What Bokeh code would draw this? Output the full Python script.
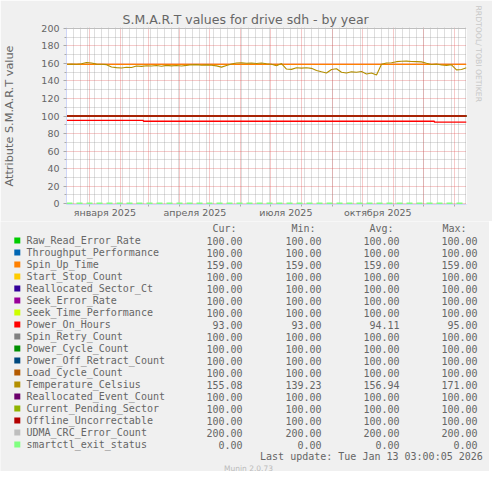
import pandas as pd
from bokeh.plotting import figure
from bokeh.layouts import column
from bokeh.models import (Range1d, FixedTicker, Grid, Title, ColumnDataSource,
                          CustomJSTickFormatter)
from bokeh.core.properties import value
from bokeh.embed import file_html
from bokeh.resources import INLINE

# --- data ---
names = ["Raw_Read_Error_Rate", "Throughput_Performance", "Spin_Up_Time", "Start_Stop_Count",
         "Reallocated_Sector_Ct", "Seek_Error_Rate", "Seek_Time_Performance", "Power_On_Hours",
         "Spin_Retry_Count", "Power_Cycle_Count", "Power_Off_Retract_Count", "Load_Cycle_Count",
         "Temperature_Celsius", "Reallocated_Event_Count", "Current_Pending_Sector",
         "Offline_Uncorrectable", "UDMA_CRC_Error_Count", "smartctl_exit_status"]
colors = ["#00CC00", "#0066B3", "#FF8000", "#FFCC00", "#330099", "#990099", "#CCFF00", "#FF0000",
          "#808080", "#008F00", "#00487D", "#B35A00", "#B38F00", "#6B006B", "#8FB300", "#B30000",
          "#BEBEBE", "#80FF80"]
cur = [100, 100, 159, 100, 100, 100, 100, 93, 100, 100, 100, 100, 155.08, 100, 100, 100, 200, 0]
mins = [100, 100, 159, 100, 100, 100, 100, 93, 100, 100, 100, 100, 139.23, 100, 100, 100, 200, 0]
avgs = [100, 100, 159, 100, 100, 100, 100, 94.11, 100, 100, 100, 100, 156.94, 100, 100, 100, 200, 0]
maxs = [100, 100, 159, 100, 100, 100, 100, 95, 100, 100, 100, 100, 171.00, 100, 100, 100, 200, 0]

start = pd.Timestamp("2024-12-09 03:00:05")
end = pd.Timestamp("2026-01-13 03:00:05")

# temperature, one value every 5 days from start
temp_step_days = 5
temp_values = [159.0, 159.2, 159.0, 159.6, 161.0, 160.4, 159.2, 159.0, 158.6, 156.0,
               155.2, 154.8, 155.6, 155.4, 157.0, 156.6, 157.4, 157.0, 157.6, 156.8,
               157.8, 157.2, 157.6, 157.0, 157.8, 158.4, 158.6, 158.0, 158.4, 158.0,
               157.2, 155.8, 157.6, 159.4, 160.4, 160.6, 160.2, 160.4, 160.0, 160.4,
               159.6, 159.0, 157.4, 159.8, 153.6, 153.2, 155.0, 154.6, 155.0, 154.4,
               152.0, 150.4, 149.0, 153.0, 154.0, 150.0, 149.0, 150.4, 150.0, 150.8,
               148.0, 149.0, 146.8, 159.0, 160.4, 160.8, 162.0, 162.4, 162.6, 162.2,
               162.0, 161.8, 160.2, 158.8, 159.4, 158.2, 157.8, 158.4, 152.6, 153.0,
               155.0]

poh_dates = ["2024-12-09 03:00:05", "2025-02-24", "2025-12-12"]
poh_values = [95, 94, 93]

label_months = ["2025-01-01", "2025-04-01", "2025-07-01", "2025-10-01"]
label_texts = ["января 2025", "апреля 2025", "июля 2025", "октября 2025"]


def ms(t):
    return pd.Timestamp(t).value / 1e6


DAY = 86400000.0
x0, x1 = ms(start), ms(end)
month_ms = [ms(t) for t in pd.date_range("2025-01-01", "2026-01-01", freq="MS")]
week_ms = [ms(t) for t in pd.date_range("2024-12-16", end, freq="7D")]
label_ms = [ms(t) + 15.5 * DAY for t in label_months]

FONT = "#666666"
SANS = "DejaVu Sans"
MONO = "DejaVu Sans Mono"
W = 489

p = figure(frame_width=400, frame_height=177, min_border_left=66, min_border_right=23,
           min_border_top=27, min_border_bottom=17,
           x_range=Range1d(x0, x1), y_range=Range1d(-1, 201),
           toolbar_location=None, output_backend="svg",
           background_fill_color="white", border_fill_color="#F0F0F0",
           outline_line_color=None)
p.xgrid.visible = False
p.ygrid.visible = False

p.title.text = "S.M.A.R.T values for drive sdh - by year"
p.title.align = "left"
p.title.offset = 56
p.title.standoff = 2
p.title.text_font = SANS
p.title.text_font_size = "12.5px"
p.title.text_font_style = "normal"
p.title.text_color = FONT

wm = Title(text="RRDTOOL/ TOBI OETIKER", align="left", offset=-22, standoff=15,
           text_font=SANS, text_font_size="7.7px", text_font_style="normal",
           text_color="#C8C8C8")
p.add_layout(wm, "right")

grey = dict(grid_line_color="#8F8F8F", grid_line_alpha=0.6, grid_line_dash="1 1")
red = dict(grid_line_color="#DE4F4F", grid_line_alpha=0.6, grid_line_dash="1 1")
p.add_layout(Grid(dimension=0, ticker=FixedTicker(ticks=week_ms), **grey))
p.add_layout(Grid(dimension=1, ticker=FixedTicker(ticks=list(range(10, 200, 20))), **grey))
p.add_layout(Grid(dimension=0, ticker=FixedTicker(ticks=month_ms), **red))
p.add_layout(Grid(dimension=1, ticker=FixedTicker(ticks=list(range(0, 201, 20))), **red))

# axes
p.yaxis.ticker = FixedTicker(ticks=list(range(0, 201, 20)), minor_ticks=list(range(0, 201, 10)))
p.xaxis.ticker = FixedTicker(ticks=label_ms, minor_ticks=month_ms)
p.xaxis.formatter = CustomJSTickFormatter(args=dict(labels=label_texts), code="return labels[index]")
for ax in (p.xaxis, p.yaxis):
    ax.axis_line_color = "#CFD6F8"
    ax.major_tick_line_color = "#AAAAAA"
    ax.minor_tick_line_color = "#AAAAAA"
    ax.major_tick_in = 0
    ax.minor_tick_in = 0
    ax.major_label_text_font = SANS
    ax.major_label_text_font_size = "9.5px"
    ax.major_label_text_color = FONT
p.yaxis.major_tick_out = 3
p.yaxis.minor_tick_out = 2
p.yaxis.major_label_standoff = 4
p.yaxis.axis_label = "Attribute S.M.A.R.T value"
p.yaxis.axis_label_standoff = 22
p.yaxis.axis_label_text_font = SANS
p.yaxis.axis_label_text_font_size = "11.3px"
p.yaxis.axis_label_text_font_style = "normal"
p.yaxis.axis_label_text_color = FONT
p.xaxis.major_tick_out = 0
p.xaxis.minor_tick_out = 2
p.xaxis.major_label_standoff = 0

# series
for name, color, val in zip(names, colors, mins):
    if name == "Temperature_Celsius":
        tx = [x0 + i * temp_step_days * DAY for i in range(len(temp_values))]
        p.line(tx, temp_values, line_color=color, line_width=1.1)
    elif name == "Power_On_Hours":
        px = [ms(d) for d in poh_dates] + [x1]
        p.step(px, poh_values + poh_values[-1:], mode="after", line_color=color, line_width=1.3)
    elif name == "smartctl_exit_status":
        p.line([x0, x1], [val, val], line_color=color, line_width=2, line_dash="6 4")
    else:
        p.line([x0, x1], [val, val], line_color=color, line_width=1.3)

# --- legend table below, drawn in pixel coordinates of the munin image ---
top_h = 27 + 177 + 17
leg_h = 471 - top_h
q = figure(width=W, height=leg_h, min_border=0,
           x_range=Range1d(0, W), y_range=Range1d(top_h + leg_h, top_h),
           x_axis_location=None, y_axis_location=None, toolbar_location=None,
           output_backend="svg", background_fill_color="#F0F0F0",
           border_fill_color="#F0F0F0", outline_line_color=None)
q.xgrid.visible = False
q.ygrid.visible = False
for fig in (p, q):
    try:
        fig.frame_align = False
    except AttributeError:
        pass

rows_y = [240 + 12 * i for i in range(len(names))]
src = ColumnDataSource(dict(
    y=rows_y, name=names, color=colors,
    cur=["%.2f" % v for v in cur], min=["%.2f" % v for v in mins],
    avg=["%.2f" % v for v in avgs], max=["%.2f" % v for v in maxs]))

mono = dict(text_font=value(MONO), text_font_size="10px", text_color=FONT,
            text_baseline="middle")
q.rect(x=16.8, y="y", width=6, height=6, fill_color="color", line_color=None, source=src)
q.text(x=26, y="y", text="name", text_align="left", source=src, **mono)
for col, cx in zip(["cur", "min", "avg", "max"], [242, 321, 399, 477]):
    q.text(x=cx, y="y", text=col, text_align="right", source=src, **mono)
q.text(x=[212, 291, 369, 442], y=[227.5] * 4, text=["Cur:", "Min:", "Avg:", "Max:"],
       text_align="left", **mono)
q.text(x=[482.3], y=[455.7], text=["Last update: Tue Jan 13 03:00:05 2026"],
       text_align="right", **mono)
q.text(x=[248], y=[467.5], text=["Munin 2.0.73"], text_align="center", text_baseline="middle",
       text_font=value(SANS), text_font_size="7.5px", text_color="#BBBBBB")

layout = column(p, q, spacing=0)
open("out.html", "w").write(file_html(layout, INLINE))
